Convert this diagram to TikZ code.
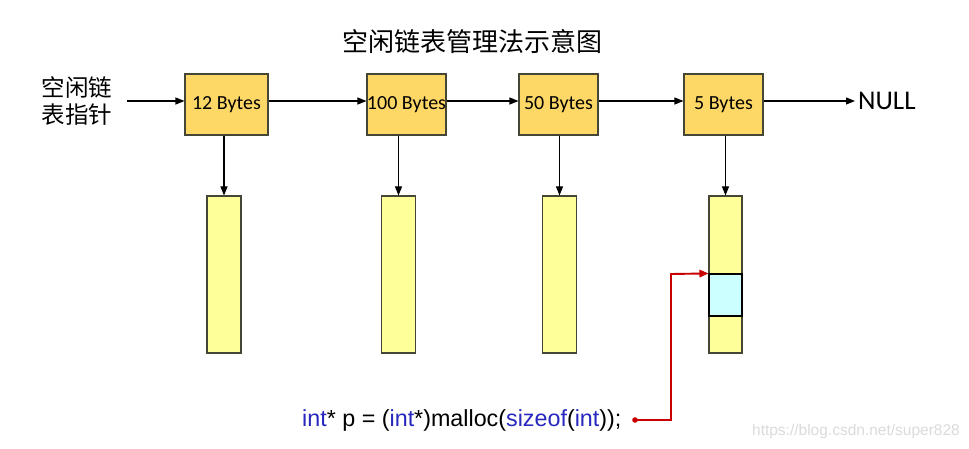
\documentclass[tikz,border=0pt]{standalone}
\usepackage{fontspec}
\setmainfont{Carlito}
\newfontfamily\cjk{Noto Sans CJK SC}
\newfontfamily\arialf{Liberation Sans}
\usetikzlibrary{arrows.meta}
\definecolor{boxfill}{RGB}{254,216,102}
\definecolor{barfill}{RGB}{255,255,153}
\definecolor{cellfill}{RGB}{204,255,255}
\definecolor{kw}{RGB}{40,40,190}
\definecolor{redline}{RGB}{200,0,0}
\definecolor{edge}{RGB}{70,70,55}
\begin{document}
\begin{tikzpicture}[x=1pt,y=-1pt,
  sizebox/.style={draw=edge, fill=boxfill, line width=1.1pt, minimum width=79pt, minimum height=61pt, inner sep=0pt, font=\fontsize{20}{22}\selectfont},
  bar/.style={draw=edge, fill=barfill, line width=1.1pt, minimum width=34pt, minimum height=157pt, inner sep=0pt},
  conn/.style={line width=1.1pt, -{Triangle[length=9pt,width=7pt]}},
  redconn/.style={draw=redline, line width=1.9pt, -{Triangle[length=9pt,width=7.5pt]}},
]
\useasboundingbox (0,0) rectangle (969,449);
\fill[white] (0,0) rectangle (969,449);

% title
\node[font=\cjk\fontsize{26}{30}\selectfont, inner sep=0pt] (title) at (472,42) {空闲链表管理法示意图};

% left label
\node[font=\cjk\fontsize{23.5}{27}\selectfont, align=left, inner sep=0pt] (head) at (77,101.5) {空闲链\\表指针};
\coordinate (start) at (127,101);

% size boxes
\node[sizebox, minimum width=83pt] (b1) at (226.5,104.5) {12 Bytes};
\node[sizebox] (b2) at (406.5,104.5) {100 Bytes};
\node[sizebox] (b3) at (558.5,104.5) {50 Bytes};
\node[sizebox] (b4) at (723.5,104.5) {5 Bytes};
\node[font=\fontsize{27}{30}\selectfont, inner sep=3pt, anchor=west] (null) at (855,101) {NULL};

% horizontal chain
\draw[conn] (start) -- ([yshift=3.5pt]b1.west);
\draw[conn] ([yshift=3.5pt]b1.east) -- ([yshift=3.5pt]b2.west);
\draw[conn] ([yshift=3.5pt]b2.east) -- ([yshift=3.5pt]b3.west);
\draw[conn] ([yshift=3.5pt]b3.east) -- ([yshift=3.5pt]b4.west);
\draw[conn] ([yshift=3.5pt]b4.east) -- (null.west);

% memory bars
\node[bar] (m1) at (224,274.5) {};
\node[bar] (m2) at (398.5,274.5) {};
\node[bar] (m3) at (559.5,274.5) {};
\node[bar, minimum width=33pt] (m4) at (725.5,274.5) {};
\node[draw=black, fill=cellfill, line width=1.1pt, minimum width=33pt, minimum height=42pt, inner sep=0pt] (cell) at (725.5,295) {};

% vertical arrows
\draw[conn] (m1.north |- b1.south) -- (m1.north);
\draw[conn] (m2.north |- b2.south) -- (m2.north);
\draw[conn] (m3.north |- b3.south) -- (m3.north);
\draw[conn] (m4.north |- b4.south) -- (m4.north);

% code line
\node[anchor=west, inner sep=0pt, font=\arialf\fontsize{23.3}{26}\selectfont] (code) at (302,420)
  {\textcolor{kw}{int}* p = (\textcolor{kw}{int}*)malloc(\textcolor{kw}{sizeof}(\textcolor{kw}{int}));};
\coordinate (dot) at (635,420);
\coordinate (turn) at (671,274);
\draw[redconn] (dot) -| (turn) -- (cell.north west);
\fill[redline] (dot) circle (2.8);

% watermark
\node[anchor=east, inner sep=0pt, text=black!14, font=\arialf\fontsize{15.5}{18}\selectfont] (wm) at (960,431) {https://blog.csdn.net/super828};

% bottom edge
\shade[left color=white, middle color=black!45, right color=white] (0,446) rectangle (969,449);
\end{tikzpicture}
\end{document}
